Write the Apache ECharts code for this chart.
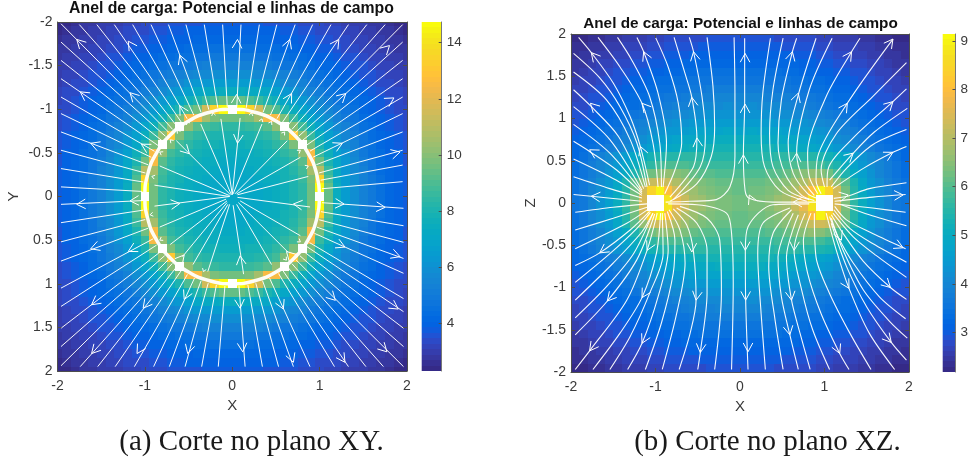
<!DOCTYPE html>
<html><head><meta charset="utf-8">
<style>html,body{margin:0;padding:0;background:#fff}#c{width:971px;height:462px}</style>
<script src="https://cdn.jsdelivr.net/npm/echarts@6/dist/echarts.min.js"></script>
</head><body><div id="c"></div>
<script>
// Potential, one quadrant per panel (both pictures are symmetric).
// XY: rows |y| = 2.0 .. 0.0, columns |x| = 2.0 .. 0.0, cells centred on multiples of 0.1. null = white cell.
const xyRow20=[2.3,2.45,2.6,2.7,2.8,2.9,3.0,3.05,3.15,3.25,3.3,3.35,3.45,3.5,3.55,3.6,3.65,3.7,3.7,3.75,3.75];
const xyRow19=[2.45,2.6,2.7,2.8,2.9,3.0,3.1,3.2,3.3,3.35,3.45,3.55,3.6,3.7,3.8,3.85,3.9,3.9,3.95,3.95,3.95];
const xyRow18=[2.6,2.7,2.8,2.9,3.05,3.15,3.25,3.3,3.4,3.55,3.6,3.75,3.8,3.9,3.95,4.0,4.1,4.15,4.2,4.2,4.2];
const xyRow17=[2.7,2.8,2.9,3.05,3.15,3.25,3.35,3.45,3.6,3.7,3.8,3.9,4.0,4.1,4.2,4.3,4.35,4.4,4.45,4.5,4.5];
const xyRow16=[2.8,2.9,3.05,3.15,3.25,3.35,3.5,3.6,3.75,3.9,4.0,4.1,4.25,4.35,4.45,4.6,4.7,4.8,4.85,4.9,4.9];
const xyRow15=[2.9,3.0,3.15,3.25,3.35,3.5,3.65,3.8,3.9,4.05,4.2,4.35,4.5,4.65,4.8,5.0,5.15,5.25,5.35,5.4,5.4];
const xyRow14=[3.0,3.1,3.25,3.35,3.5,3.65,3.8,3.95,4.1,4.25,4.45,4.65,4.85,5.05,5.3,5.45,5.6,5.75,5.85,5.9,5.9];
const xyRow13=[3.05,3.2,3.3,3.45,3.6,3.8,3.95,4.1,4.3,4.5,4.75,5.0,5.25,5.5,5.75,6.0,6.2,6.35,6.4,6.4,6.4];
const xyRow12=[3.15,3.3,3.4,3.6,3.75,3.9,4.1,4.3,4.5,4.8,5.1,5.4,5.7,6.0,6.3,6.6,7.0,7.2,7.3,7.4,7.4];
const xyRow11=[3.25,3.35,3.55,3.7,3.9,4.05,4.25,4.5,4.8,5.1,5.45,5.8,6.2,6.6,7.1,7.6,8.1,8.7,9.0,9.4,9.4];
const xyRow10=[3.3,3.45,3.6,3.8,4.0,4.2,4.45,4.75,5.1,5.45,5.85,6.25,6.8,7.5,8.1,9.0,9.6,11.5,13.5,14.7,null];
const xyRow09=[3.35,3.55,3.75,3.9,4.1,4.35,4.65,5.0,5.4,5.8,6.25,6.9,7.7,8.7,9.8,12.5,12.5,10.5,9.7,9.5,9.5];
const xyRow08=[3.45,3.6,3.8,4.0,4.25,4.5,4.85,5.25,5.7,6.2,6.8,7.7,8.8,10.0,null,10.2,9.2,8.8,8.6,8.5,8.5];
const xyRow07=[3.5,3.7,3.9,4.1,4.35,4.65,5.05,5.5,6.0,6.6,7.5,8.7,10.2,13.0,9.7,8.9,8.5,8.2,8.1,8.0,8.0];
const xyRow06=[3.55,3.8,3.95,4.2,4.45,4.8,5.3,5.75,6.3,7.1,8.1,9.8,null,9.8,8.8,8.4,8.0,7.85,7.75,7.7,7.7];
const xyRow05=[3.6,3.85,4.0,4.3,4.6,5.0,5.45,6.0,6.6,7.6,8.6,12.5,10.2,8.9,8.4,8.0,7.8,7.6,7.5,7.5,7.5];
const xyRow04=[3.65,3.9,4.1,4.35,4.7,5.15,5.6,6.2,7.0,8.1,9.6,12.5,9.2,8.5,8.0,7.8,7.6,7.5,7.4,7.3,7.3];
const xyRow03=[3.7,3.9,4.15,4.4,4.8,5.25,5.75,6.35,7.2,8.7,11.0,10.5,8.8,8.2,7.85,7.6,7.5,7.35,7.25,7.15,7.15];
const xyRow02=[3.7,3.95,4.2,4.45,4.85,5.35,5.85,6.4,7.3,9.0,13.5,9.7,8.6,8.1,7.75,7.5,7.4,7.25,7.15,7.1,7.1];
const xyRow01=[3.75,3.95,4.2,4.5,4.9,5.4,5.9,6.4,7.4,9.4,14.7,9.5,8.5,8.0,7.7,7.5,7.3,7.15,7.1,7.05,7.0];
const xyRow00=[3.75,3.95,4.2,4.5,4.9,5.4,5.9,6.4,7.4,9.4,null,9.5,8.5,8.0,7.7,7.5,7.3,7.15,7.1,7.0,7.0];
const xyQuadrant=[xyRow20,xyRow19,xyRow18,xyRow17,xyRow16,xyRow15,xyRow14,xyRow13,xyRow12,xyRow11,xyRow10,xyRow09,xyRow08,xyRow07,xyRow06,xyRow05,xyRow04,xyRow03,xyRow02,xyRow01,xyRow00];

// XZ: rows |z| = 1.95 .. 0.05, columns |x| = 0.05 .. 1.95, cells bounded by multiples of 0.1.
const xzRow195=[2.87,2.87,2.87,2.85,2.84,2.83,2.81,2.78,2.74,2.70,2.66,2.62,2.58,2.54,2.49,2.44,2.39,2.34,2.29,2.24];
const xzRow185=[3.0,3.0,3.0,2.98,2.97,2.95,2.93,2.9,2.86,2.82,2.77,2.72,2.68,2.63,2.58,2.53,2.47,2.42,2.37,2.31];
const xzRow175=[3.13,3.13,3.13,3.11,3.1,3.07,3.05,3.01,2.97,2.93,2.88,2.83,2.78,2.73,2.67,2.62,2.55,2.5,2.44,2.37];
const xzRow165=[3.27,3.27,3.27,3.25,3.23,3.2,3.17,3.13,3.09,3.04,2.99,2.94,2.88,2.82,2.76,2.7,2.63,2.57,2.51,2.43];
const xzRow155=[3.41,3.42,3.42,3.41,3.39,3.35,3.3,3.26,3.21,3.16,3.11,3.05,2.99,2.92,2.85,2.78,2.71,2.64,2.57,2.49];
const xzRow145=[3.57,3.58,3.58,3.56,3.54,3.5,3.45,3.4,3.34,3.28,3.22,3.15,3.08,3.01,2.93,2.85,2.78,2.7,2.63,2.56];
const xzRow135=[3.75,3.76,3.76,3.73,3.7,3.66,3.6,3.54,3.47,3.4,3.33,3.26,3.18,3.1,3.01,2.93,2.85,2.77,2.69,2.63];
const xzRow125=[3.94,3.95,3.94,3.91,3.87,3.82,3.76,3.69,3.61,3.53,3.45,3.37,3.28,3.19,3.1,3.01,2.93,2.85,2.76,2.7];
const xzRow115=[4.13,4.15,4.13,4.1,4.05,3.99,3.92,3.84,3.75,3.66,3.57,3.47,3.38,3.28,3.19,3.1,3.0,2.92,2.84,2.78];
const xzRow105=[4.34,4.36,4.35,4.3,4.25,4.19,4.12,4.06,3.97,3.89,3.79,3.68,3.57,3.45,3.33,3.2,3.1,3.0,2.92,2.86];
const xzRow095=[4.55,4.57,4.56,4.52,4.47,4.4,4.33,4.26,4.17,4.08,3.97,3.85,3.72,3.59,3.46,3.33,3.22,3.11,3.02,2.95];
const xzRow085=[4.78,4.8,4.78,4.74,4.7,4.63,4.55,4.47,4.38,4.28,4.17,4.03,3.89,3.74,3.6,3.46,3.34,3.22,3.12,3.02];
const xzRow075=[5.02,5.03,5.02,5.0,4.95,4.88,4.8,4.71,4.61,4.51,4.39,4.23,4.07,3.91,3.75,3.6,3.46,3.34,3.22,3.12];
const xzRow065=[5.28,5.28,5.27,5.25,5.22,5.16,5.09,5.0,4.89,4.76,4.62,4.45,4.27,4.08,3.9,3.74,3.59,3.45,3.33,3.2];
const xzRow055=[5.53,5.53,5.53,5.55,5.57,5.58,5.58,5.55,5.48,5.38,5.26,5.05,4.81,4.56,4.32,4.08,3.84,3.63,3.45,3.26];
const xzRow045=[5.7,5.7,5.72,5.75,5.8,5.85,5.9,5.92,5.9,5.8,5.65,5.35,5.05,4.75,4.45,4.18,3.95,3.72,3.5,3.3];
const xzRow035=[5.9,5.92,5.95,6.0,6.08,6.2,6.32,6.45,6.55,6.5,6.3,5.85,5.4,5.0,4.62,4.3,4.02,3.8,3.58,3.37];
const xzRow025=[6.1,6.12,6.17,6.25,6.35,6.5,6.7,6.95,7.25,7.4,7.2,6.6,6.0,5.35,4.85,4.45,4.2,3.9,3.65,3.43];
const xzRow015=[6.2,6.22,6.28,6.35,6.5,6.7,6.95,7.35,8.0,9.0,8.4,7.3,6.3,5.55,5.0,4.55,4.25,3.95,3.68,3.47];
const xzRow005=[6.3,6.32,6.4,6.5,6.65,6.85,7.2,7.7,8.8,null,null,7.45,6.4,5.65,5.1,4.65,4.3,4.0,3.7,3.5];
const xzQuadrant=[xzRow195,xzRow185,xzRow175,xzRow165,xzRow155,xzRow145,xzRow135,xzRow125,xzRow115,xzRow105,xzRow095,xzRow085,xzRow075,xzRow065,xzRow055,xzRow045,xzRow035,xzRow025,xzRow015,xzRow005];

// Colour-bar ranges and ticks
const xyRange=[2.29,14.74], xzRange=[2.19,9.14];
const xyBarTicks=[4,6,8,10,12,14], xzBarTicks=[3,4,5,6,7,8,9];

// Parula, 64 steps
const parula=[[.2081,.1663,.5292],[.2116,.1898,.5777],[.2123,.2138,.6270],[.2081,.2386,.6771],[.1959,.2645,.7279],[.1707,.2919,.7792],[.1253,.3242,.8303],[.0591,.3598,.8683],[.0117,.3875,.8820],[.0060,.4086,.8828],[.0165,.4266,.8786],[.0329,.4430,.8720],[.0498,.4586,.8641],[.0629,.4737,.8554],[.0723,.4887,.8467],[.0779,.5040,.8384],[.0793,.5200,.8312],[.0749,.5375,.8263],[.0641,.5570,.8240],[.0488,.5772,.8228],[.0343,.5966,.8199],[.0265,.6137,.8135],[.0239,.6287,.8038],[.0231,.6418,.7913],[.0228,.6535,.7768],[.0267,.6642,.7607],[.0384,.6743,.7436],[.0590,.6838,.7254],[.0843,.6928,.7062],[.1133,.7015,.6859],[.1453,.7098,.6646],[.1801,.7177,.6424],[.2178,.7250,.6193],[.2586,.7317,.5954],[.3022,.7376,.5712],[.3482,.7424,.5473],[.3953,.7459,.5244],[.4420,.7481,.5033],[.4871,.7491,.4840],[.5300,.7491,.4661],[.5709,.7485,.4494],[.6099,.7473,.4337],[.6473,.7456,.4188],[.6834,.7435,.4044],[.7184,.7411,.3905],[.7525,.7384,.3768],[.7858,.7356,.3633],[.8185,.7327,.3498],[.8507,.7299,.3360],[.8824,.7274,.3217],[.9139,.7258,.3063],[.9450,.7261,.2886],[.9739,.7314,.2666],[.9938,.7455,.2403],[.9990,.7653,.2164],[.9955,.7861,.1967],[.9880,.8066,.1794],[.9789,.8271,.1633],[.9697,.8481,.1475],[.9626,.8705,.1309],[.9589,.8949,.1132],[.9598,.9218,.0948],[.9661,.9514,.0755],[.9763,.9831,.0538]];

// XY field lines: outer [xEdge,yEdge,xRing,yRing]
const xyOuter=[[-1.96,-1.98,-.725,-.733],[-1.75,-1.97,-.684,-.77],[-1.55,-1.97,-.637,-.81],[-1.35,-1.97,-.582,-.85],[-1.14,-1.97,-.516,-.891],[-.93,-1.97,-.44,-.932],[-.73,-1.97,-.358,-.966],[-.53,-1.97,-.268,-.995],[-.32,-1.97,-.165,-1.017],[-.11,-1.97,-.057,-1.028],[.10,-1.97,.052,-1.028],[.31,-1.97,.16,-1.017],[.51,-1.97,.258,-.997],[.72,-1.97,.354,-.967],[.92,-1.97,.436,-.933],[1.13,-1.97,.512,-.893],[1.33,-1.97,.576,-.853],[1.54,-1.97,.634,-.811],[1.75,-1.97,.684,-.77],[1.95,-1.97,.725,-.732],
[1.95,-1.77,.762,-.692],[1.95,-1.56,.804,-.643],[1.95,-1.35,.847,-.586],[1.95,-1.14,.889,-.52],[1.95,-.95,.926,-.451],[1.95,-.74,.963,-.365],[1.95,-.53,.994,-.27],[1.95,-.36,1.012,-.187],[1.95,-.17,1.026,-.089],
[1.96,.135,1.027,.071],[1.96,.335,1.015,.174],[1.96,.525,.995,.267],[1.96,.71,.968,.351],[1.96,.88,.94,.422],[1.96,1.17,.884,.528],[1.96,1.32,.855,.575],[1.96,1.51,.816,.629],[1.96,1.72,.774,.679],[1.96,1.95,.73,.726],
[-1.96,-1.77,-.764,-.69],[-1.96,-1.56,-.806,-.641],[-1.96,-1.35,-.848,-.584],[-1.96,-1.14,-.89,-.518],[-1.96,-.95,-.927,-.449],[-1.96,-.74,-.964,-.364],[-1.96,-.53,-.994,-.269],[-1.96,-.32,-1.017,-.166],[-1.96,-.11,-1.029,-.058],
[-1.96,.09,-1.029,.047],[-1.96,.30,-1.017,.156],[-1.96,.52,-.996,.264],[-1.96,.74,-.964,.364],[-1.96,1.05,-.907,.486],[-1.96,1.26,-.866,.557],[-1.96,1.51,-.815,.628],[-1.96,1.72,-.774,.679],[-1.96,1.94,-.732,.725],
[-1.74,1.95,-.686,.768],[-1.54,1.95,-.638,.808],[-1.34,1.95,-.583,.848],[-1.12,1.95,-.513,.893],[-.90,1.95,-.432,.935],[-.72,1.95,-.357,.966],[-.54,1.95,-.275,.993],[-.35,1.95,-.182,1.014],[-.16,1.95,-.084,1.026],
[.147,1.95,.077,1.027],[.345,1.95,.179,1.014],[.53,1.95,.27,.994],[.70,1.95,.348,.969],[.89,1.95,.427,.936],[1.17,1.95,.53,.883],[1.33,1.95,.58,.85],[1.53,1.95,.636,.81],[1.73,1.95,.683,.77]];
// XY field lines inside the ring: [xStart,yStart,xEnd,yEnd]
const xyInner=[[-.01,-.02,-.36,-.83],[0,-.02,-.13,-.89],[0,-.02,.09,-.9],[.01,-.03,.34,-.83],[.03,-.03,.63,-.64],[.05,-.03,.78,-.45],[.06,-.02,.87,-.23],[.06,.01,.89,.12],[.09,.05,.78,.45],[.07,.07,.64,.64],[.05,.09,.45,.78],[.01,.1,.13,.89],[-.03,.09,-.28,.86],[-.05,.09,-.45,.78],[-.06,.07,-.57,.69],[-.06,.05,-.71,.55],[-.07,.03,-.83,.35],[-.03,0,-.89,.11],[-.03,0,-.89,-.13],[-.03,-.01,-.83,-.35],[-.02,-.02,-.64,-.64]];
// The charged ring
const ringPoints=[[1,0],[.966,.259],[.866,.5],[.707,.707],[.5,.866],[.259,.966],[0,1],[-.259,.966],[-.5,.866],[-.707,.707],[-.866,.5],[-.966,.259],[-1,0],[-.966,-.259],[-.866,-.5],[-.707,-.707],[-.5,-.866],[-.259,-.966],[0,-1],[.259,-.966],[.5,-.866],[.707,-.707],[.866,-.5],[.966,-.259],[1,0]];
// Arrow heads XY: [x,y,dx,dy]
const xyArrows=[[-1.78,-1.8,-.7,-.7],[-1.19,-1.78,-.55,-.83],[-.6,-1.62,-.35,-.94],[.06,-1.8,.05,-1],[-1.74,-1.2,-.82,-.57],[-1.17,-1.19,-.7,-.71],[-.6,-1.04,-.5,-.87],[.05,-1.17,.05,-1],[-1.62,-.61,-.94,-.35],[-1.04,-.6,-.87,-.5],
[.66,-1.8,.34,-.94],[1.22,-1.8,.56,-.83],[1.8,-1.73,.72,-.69],[1.85,-1.13,.85,-.52],[1.3,-1.18,.74,-.67],[.68,-1.18,.5,-.87],[1.26,-.61,.9,-.43],[1.92,-.51,.97,-.26],
[-1.78,.09,-1,.05],[-1.17,.05,-1,.05],[-1.62,.6,-.94,.34],[-1.19,.63,-.88,.47],[-1.61,1.24,-.8,.6],[-1.02,1.28,-.62,.78],[-1.61,1.8,-.67,.74],[-1.09,1.8,-.52,.85],[-.51,1.8,-.27,.96],[.12,1.78,.07,1],[.09,1.28,.07,1],[-.55,1.18,-.42,.9],
[1.28,.086,1,.07],[1.75,.124,1,.07],[1.29,.58,.91,.41],[1.92,.69,.94,.34],[1.18,1.19,.7,.71],[1.90,1.29,.83,.56],[1.77,1.78,.7,.71],[1.29,1.90,.56,.83],[.70,1.90,.35,.94],[.585,1.29,.41,.91],
[-.49,-.49,.7,.7],[.06,-.61,-.1,1],[-.6,.08,1,-.12],[.09,.68,-.13,-1],[-.55,.67,.64,-.77],[.70,.086,-1,-.12],[.62,.63,-.7,-.71]];
// Tiny arrow heads hugging the inside of the ring: [x,y,dx,dy]
const xyTinyArrows=[[-.22,-.96,-.2,-1],[-.52,-.86,-.5,-.87],[-.63,-.76,-.6,-.8],[-.71,-.65,-.7,-.7],[-.83,-.51,-.85,-.5],[-.92,-.23,-1,-.25],[.22,-.96,.2,-1],[.34,-.89,.35,-.93],[.45,-.86,.5,-.87],[.60,-.74,.6,-.8],[.78,-.53,.8,-.55],[.87,-.35,.9,-.4],[-.94,.21,-1,.2],[-.83,.50,-.85,.5],[-.33,.86,-.35,.93],[.62,.73,.6,.8],[.78,.52,.8,.55]];

// XZ field lines: each a list of [x,z]
const xzLeftUpper=[
[[-1.91,1.96],[-1.76,1.78],[-1.50,1.42],[-1.30,1.02],[-1.18,.67],[-1.07,.21]],
[[-1.68,1.96],[-1.42,1.61],[-1.16,1.18],[-1.03,.71],[-.97,.19]],
[[-1.45,1.96],[-1.28,1.69],[-1.07,1.26],[-.95,.71],[-.93,.19]],
[[-1.22,1.96],[-1.14,1.79],[-.97,1.30],[-.87,.71],[-.91,.19]],
[[-1.0,1.96],[-.85,1.61],[-.73,1.18],[-.69,.71],[-.77,.39],[-.89,.11]],
[[-.78,1.96],[-.65,1.53],[-.57,1.25],[-.51,.77],[-.55,.43],[-.83,.07]],
[[-.60,1.96],[-.55,1.79],[-.45,1.26],[-.41,.79],[-.47,.43],[-.79,.04]],
[[-.39,1.96],[-.32,1.38],[-.30,.90],[-.34,.55],[-.51,.23],[-.83,.02]],
[[-.07,1.96],[-.06,1.30],[-.06,.55],[-.12,.19],[-.28,.04],[-.59,.02],[-.88,.01]],
[[-1.97,1.77],[-1.66,1.48],[-1.42,1.14],[-1.22,.71],[-1.10,.19]],
[[-1.97,1.55],[-1.58,1.22],[-1.30,.75],[-1.12,.19]],
[[-1.97,1.34],[-1.78,1.16],[-1.44,.79],[-1.14,.17]],
[[-1.97,1.14],[-1.54,.75],[-1.16,.15]],
[[-1.97,.93],[-1.54,.59],[-1.16,.13]],
[[-1.97,.73],[-1.78,.61],[-1.46,.39],[-1.16,.11]],
[[-1.97,.52],[-1.54,.31],[-1.16,.09]],
[[-1.97,.31],[-1.54,.17],[-1.16,.06]],
[[-1.97,.10],[-1.76,.08],[-1.16,.02]]];
const xzLeftLower=[
[[-1.95,-.11],[-1.50,-.05],[-1.10,-.01]],
[[-1.95,-.32],[-1.50,-.18],[-1.10,-.05]],
[[-1.95,-.54],[-1.34,-.24],[-1.08,-.07]],
[[-1.95,-.74],[-1.66,-.59],[-1.30,-.32],[-1.07,-.10]],
[[-1.95,-.94],[-1.54,-.60],[-1.22,-.30],[-1.06,-.11]],
[[-1.95,-1.15],[-1.50,-.71],[-1.16,-.34],[-1.03,-.12]],
[[-1.95,-1.36],[-1.58,-.99],[-1.26,-.60],[-1.03,-.12]],
[[-1.95,-1.56],[-1.57,-1.16],[-1.22,-.67],[-1.01,-.13]],
[[-1.95,-1.97],[-1.78,-1.75],[-1.34,-1.15],[-1.10,-.56],[-.98,-.12]],
[[-1.74,-1.97],[-1.42,-1.54],[-1.16,-1.12],[-.99,-.60],[-.94,-.12]],
[[-1.54,-1.97],[-1.30,-1.58],[-1.07,-1.07],[-.91,-.60],[-.92,-.12]],
[[-1.33,-1.97],[-1.16,-1.66],[-.97,-1.11],[-.85,-.56],[-.89,-.12]],
[[-1.12,-1.97],[-.93,-1.42],[-.79,-.83],[-.77,-.44],[-.86,-.10]],
[[-.92,-1.97],[-.75,-1.31],[-.65,-.71],[-.71,-.32],[-.84,-.08]],
[[-.72,-1.97],[-.59,-1.54],[-.52,-1.15],[-.55,-.58],[-.63,-.26],[-.79,-.07]],
[[-.50,-1.97],[-.47,-1.77],[-.39,-1.07],[-.39,-.56],[-.51,-.24],[-.75,-.06]],
[[-.30,-1.97],[-.22,-1.07],[-.24,-.44],[-.39,-.18],[-.71,-.04]],
[[-.10,-1.97],[-.08,-.95],[-.10,-.36],[-.16,-.12],[-.51,-.02],[-.85,-.01]]];
const xzRightUpper=[
[[.055,1.95],[.055,1.17],[.04,.57],[.06,.15],[.11,.055],[.39,.01],[.90,.01]],
[[.36,1.95],[.27,1.30],[.25,.82],[.29,.43],[.47,.15],[.79,.02]],
[[.51,1.95],[.39,1.34],[.35,.82],[.39,.43],[.57,.15],[.82,.04]],
[[.67,1.95],[.62,1.79],[.49,1.22],[.45,.71],[.53,.35],[.73,.09],[.88,.03]],
[[.90,1.95],[.69,1.28],[.57,.71],[.63,.35],[.80,.11],[.91,.055]],
[[1.09,1.95],[.82,1.34],[.67,.59],[.75,.27],[.88,.09]],
[[1.42,1.95],[1.32,1.79],[1.02,1.26],[.80,.59],[.82,.31],[.92,.11]],
[[1.81,1.94],[1.27,1.18],[.92,.55],[.90,.27],[.96,.11]],
[[1.97,1.66],[1.57,1.26],[1.14,.82],[.96,.39],[1.0,.19]],
[[1.97,1.35],[1.81,1.20],[1.34,.77],[1.04,.39],[1.03,.19]],
[[1.98,1.12],[1.59,.84],[1.34,.59],[1.06,.27]],
[[1.97,.87],[1.57,.69],[1.26,.41],[1.08,.19]],
[[1.97,.67],[1.81,.60],[1.46,.41],[1.10,.17]],
[[1.97,.24],[1.53,.17],[1.27,.08],[1.11,.055]],
[[1.96,.10],[1.57,.07],[1.12,.02]]];
const xzRightLower=[
[[1.96,-.11],[1.57,-.06],[1.12,-.01]],
[[1.97,-.27],[1.53,-.14],[1.20,-.02]],
[[1.96,-.54],[1.57,-.36],[1.26,-.20],[1.12,-.04]],
[[1.97,-.70],[1.57,-.48],[1.30,-.30],[1.11,-.08]],
[[1.97,-.88],[1.61,-.62],[1.34,-.40],[1.10,-.12]],
[[1.97,-1.14],[1.78,-1.0],[1.46,-.69],[1.22,-.36],[1.08,-.14]],
[[1.96,-1.37],[1.65,-1.11],[1.34,-.71],[1.16,-.40],[1.06,-.16]],
[[1.98,-1.60],[1.77,-1.40],[1.46,-1.03],[1.22,-.56],[1.08,-.18]],
[[1.97,-1.86],[1.79,-1.65],[1.50,-1.23],[1.26,-.75],[1.08,-.24]],
[[1.83,-1.97],[1.53,-1.54],[1.29,-1.01],[1.14,-.56],[1.02,-.12]],
[[1.55,-1.97],[1.30,-1.54],[1.06,-1.07],[.90,-.64],[.88,-.12]],
[[1.29,-1.97],[1.18,-1.78],[.96,-1.31],[.80,-.83],[.75,-.44],[.84,-.12]],
[[1.06,-1.97],[.86,-1.50],[.73,-1.03],[.64,-.56],[.77,-.12]],
[[.83,-1.97],[.71,-1.54],[.61,-1.15],[.55,-.64],[.69,-.14]],
[[.69,-1.97],[.59,-1.56],[.49,-1.11],[.45,-.64],[.63,-.12]],
[[.51,-1.97],[.41,-1.35],[.34,-.75],[.39,-.36],[.61,-.08]],
[[.30,-1.97],[.25,-1.31],[.21,-.60],[.27,-.24],[.59,-.06]],
[[.095,-1.97],[.067,-1.15],[.063,-.56],[.095,-.28],[.39,-.02],[.82,-.01]]];
// Arrow heads XZ: [x,z,dx,dz]
const xzArrows=[[-1.76,1.78,-.65,.76],[-1.14,1.79,-.4,.92],[-.55,1.79,-.2,.98],[.06,1.77,0,1],[-1.77,1.18,-.7,.7],[-1.16,1.18,-.65,.76],[-.57,1.25,-.15,.99],[.06,1.17,0,1],[-.51,.77,-.1,.99],[.04,.57,0,1],[-1.78,.63,-.85,.5],[-1.18,.67,-.35,.94],[-1.76,.08,-1,.08],
[-1.66,-.59,-.8,-.55],[-1.10,-.56,-.45,-.9],[-.57,-.58,0,-1],[-1.57,-1.16,-.65,-.76],[-1.16,-1.12,-.5,-.86],[-.52,-1.15,-.15,-.99],[-1.78,-1.75,-.6,-.8],[-1.16,-1.66,-.45,-.89],[-.47,-1.77,-.1,-.99],
[.62,1.79,.25,.97],[.69,1.30,.3,.95],[.67,.59,.05,1],[1.32,1.79,.55,.83],[1.81,1.94,.6,.8],[1.27,1.18,.55,.83],[1.81,1.20,.72,.69],[1.34,.59,.75,.66],[1.81,.60,.88,.47],[.11,.095,-.4,.9],[.63,.01,-1,0],[1.28,.095,.95,.2],[1.93,.095,1,.05],
[.063,-.56,0,-1],[.067,-1.15,0,-1],[.095,-1.76,0,-1],[.64,-.56,-.05,-1],[.61,-1.15,.15,-.99],[.59,-1.56,.2,-.98],[1.20,-.44,.4,-.92],[1.29,-1.01,.5,-.87],[1.18,-1.78,.4,-.92],[1.78,-1.0,.72,-.69],[1.79,-1.65,.65,-.76],[1.93,-.53,.9,-.42]];

const titleText='Anel de carga: Potencial e linhas de campo';
const captionA='(a) Corte no plano XY.', captionB='(b) Corte no plano XZ.';

/* ---------- tables for the library ---------- */
const colorOf=(v,r)=>{const i=Math.max(0,Math.min(63,Math.floor((v-r[0])/(r[1]-r[0])*64)));const c=parula[i];
  return `rgb(${Math.round(c[0]*255)},${Math.round(c[1]*255)},${Math.round(c[2]*255)})`;};
const xyCells=[];
for(let b=0;b<41;b++)for(let a=0;a<41;a++){const v=xyQuadrant[Math.min(b,40-b)][Math.min(a,40-a)];
  if(v!==null)xyCells.push([(a-20)/10,(b-20)/10,v]);}
const xzCells=[];
for(let j=0;j<40;j++)for(let i=0;i<40;i++){const v=xzQuadrant[Math.min(j,39-j)][19-Math.min(i,39-i)];
  if(v!==null)xzCells.push([(i*2-39)/20,(j*2-39)/20,v]);}
const levels=r=>parula.map((_,i)=>[r[0]+(r[1]-r[0])*i/64,r[0]+(r[1]-r[0])*(i+1)/64]);

const heatSeries=(cells,range,ai)=>({type:'custom',xAxisIndex:ai,yAxisIndex:ai,silent:true,animation:false,z:1,
  encode:{x:0,y:1},data:cells,
  renderItem:(p,api)=>{const x=api.value(0),y=api.value(1),v=api.value(2);
    const a=api.coord([x-.05,y-.05]),b=api.coord([x+.05,y+.05]);
    const cs=p.coordSys;
    const rect=echarts.graphic.clipRectByRect({x:Math.round(Math.min(a[0],b[0])),y:Math.round(Math.min(a[1],b[1])),
      width:Math.round(Math.max(a[0],b[0]))-Math.round(Math.min(a[0],b[0])),
      height:Math.round(Math.max(a[1],b[1]))-Math.round(Math.min(a[1],b[1]))},
      {x:cs.x,y:cs.y,width:cs.width,height:cs.height});
    return rect&&{type:'rect',shape:rect,style:{fill:colorOf(v,range)}};}});
const barSeries=(range,ai)=>({type:'custom',xAxisIndex:ai,yAxisIndex:ai,silent:true,animation:false,z:1,
  encode:{y:[0,1]},data:levels(range),
  renderItem:(p,api)=>{const a=api.coord([0,api.value(0)]),b=api.coord([1,api.value(1)]);
    const y0=Math.round(b[1]),y1=Math.round(a[1]);
    return {type:'rect',shape:{x:a[0],y:y0,width:b[0]-a[0],height:y1-y0},style:{fill:colorOf((api.value(0)+api.value(1))/2,range)}};}});
const lineSeries=(pts,ai,smooth,w)=>({type:'line',xAxisIndex:ai,yAxisIndex:ai,data:pts,symbol:'none',smooth:smooth,silent:true,animation:false,z:3,
  lineStyle:{color:'#fff',width:w,opacity:.95}});
const arrowSeries=(arr,ai,L,h)=>({type:'custom',xAxisIndex:ai,yAxisIndex:ai,silent:true,animation:false,z:4,encode:{x:0,y:1},data:arr,
  renderItem:(p,api)=>{const t=api.coord([api.value(0),api.value(1)]);
    const q=api.coord([api.value(0)+api.value(2)*.1,api.value(1)+api.value(3)*.1]);
    const ang=Math.atan2(q[1]-t[1],q[0]-t[0]);
    const w=s=>[t[0]-L*Math.cos(ang+s*h),t[1]-L*Math.sin(ang+s*h)];
    return {type:'polyline',shape:{points:[w(1),t,w(-1)]},style:{stroke:'#fff',lineWidth:1,fill:null}};}});

const axCol='#4d4d4d', txtCol='#3a3a3a', font='"Liberation Sans",Arial,sans-serif';
const base=(extra,margin)=>Object.assign({type:'value',min:-2,max:2,z:6,splitLine:{show:false},
  axisLine:{show:true,onZero:false,lineStyle:{color:axCol,width:1}},
  axisTick:{show:true,inside:true,length:4,lineStyle:{color:axCol,width:1}},
  axisLabel:{show:true,color:txtCol,fontFamily:font,fontSize:14,margin:margin,hideOverlap:false}},extra);
const box=(extra)=>base(Object.assign({axisLabel:{show:false}},extra),5);
const nameSt={color:txtCol,fontFamily:font,fontSize:15};
const barAxis=(range,ticks)=>({type:'value',position:'right',min:range[0],max:range[1],z:6,scale:true,splitLine:{show:false},
  axisLine:{show:true,onZero:false,lineStyle:{color:'#777',width:1}},
  axisTick:{show:true,inside:true,length:3,customValues:ticks,lineStyle:{color:axCol,width:1}},
  axisLabel:{show:true,customValues:ticks,color:txtCol,fontFamily:font,fontSize:13.5,margin:5}});

const captionSt={fontFamily:'"Liberation Serif",serif',fontSize:29,fontWeight:'normal',color:'#1a1a1a'};
const titleA={fontFamily:font,fontSize:15.8,fontWeight:'bold',color:'#111'};
const titleB={fontFamily:font,fontSize:15.3,fontWeight:'bold',color:'#111'};
const chart=echarts.init(document.getElementById('c'),null,{renderer:'canvas'});
chart.setOption({
  animation:false,backgroundColor:'#fff',
  title:[
    {text:titleText,left:231.5,top:1,textAlign:'center',padding:0,textStyle:titleA},
    {text:titleText,left:740.5,top:16,textAlign:'center',padding:0,textStyle:titleB},
    {text:captionA,left:251.5,top:428,textAlign:'center',padding:0,textStyle:captionSt},
    {text:captionB,left:767.5,top:428,textAlign:'center',padding:0,textStyle:captionSt}],
  grid:[
    {left:57.5,top:22,width:349.5,height:349,containLabel:false},
    {left:421.7,top:22,width:20,height:349,containLabel:false},
    {left:571,top:34,width:338,height:338,containLabel:false},
    {left:942.7,top:34,width:18,height:338,containLabel:false}],
  xAxis:[
    base({gridIndex:0,interval:1,position:'bottom',name:'X',nameLocation:'middle',nameGap:24,nameTextStyle:nameSt},8),
    box({gridIndex:0,interval:1,position:'top'}),
    {type:'value',gridIndex:1,min:0,max:1,show:false},
    base({gridIndex:2,interval:1,position:'bottom',name:'X',nameLocation:'middle',nameGap:25,nameTextStyle:nameSt},8),
    box({gridIndex:2,interval:1,position:'top'}),
    {type:'value',gridIndex:3,min:0,max:1,show:false}],
  yAxis:[
    base({gridIndex:0,interval:.5,position:'left',inverse:true,name:'Y',nameLocation:'middle',nameGap:36,nameRotate:90,nameTextStyle:nameSt},5),
    box({gridIndex:0,interval:.5,position:'right',inverse:true}),
    Object.assign(barAxis(xyRange,xyBarTicks),{gridIndex:1}),
    base({gridIndex:2,interval:.5,position:'left',name:'Z',nameLocation:'middle',nameGap:27,nameRotate:90,nameTextStyle:nameSt},5),
    box({gridIndex:2,interval:.5,position:'right'}),
    Object.assign(barAxis(xzRange,xzBarTicks),{gridIndex:3})],
  series:[
    heatSeries(xyCells,xyRange,0),
    heatSeries(xzCells,xzRange,3),
    barSeries(xyRange,2),
    barSeries(xzRange,5),
    ...xyOuter.concat(xyInner).map(s=>lineSeries([[s[0],s[1]],[s[2],s[3]]],0,false,1)),
    lineSeries(ringPoints,0,true,3.5),
    ...xzLeftUpper.concat(xzLeftLower,xzRightUpper,xzRightLower).map(s=>lineSeries(s,3,.3,1.1)),
    arrowSeries(xyArrows,0,10,.5),
    arrowSeries(xyTinyArrows,0,3.5,.6),
    arrowSeries(xzArrows,3,10,.5)]
});
</script></body></html>
